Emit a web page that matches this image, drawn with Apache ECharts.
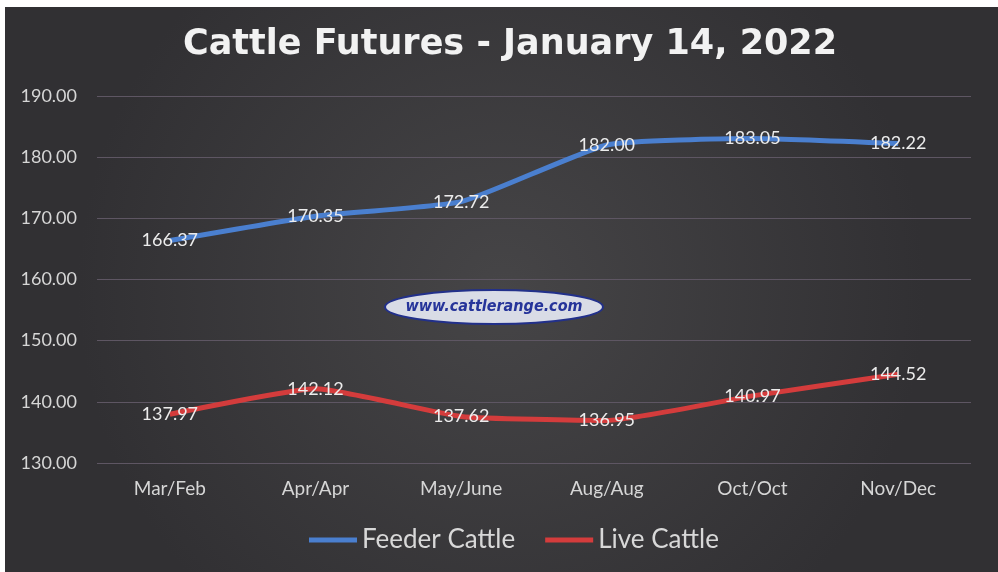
<!DOCTYPE html>
<html>
<head>
<meta charset="utf-8">
<script src="https://cdn.jsdelivr.net/npm/echarts@6/dist/echarts.min.js"></script>
<style>
html,body{margin:0;padding:0;background:#fff;}
#c{width:998px;height:572px;}
</style>
</head>
<body>
<div id="c"></div>
<script>
const categories = ['Mar/Feb','Apr/Apr','May/June','Aug/Aug','Oct/Oct','Nov/Dec'];
const feederCattle = [166.37,170.35,172.72,182.00,183.05,182.22];
const liveCattle = [137.97,142.12,137.62,136.95,140.97,144.52];
const yTicks = {min:130,max:190,interval:10};

const chart = echarts.init(document.getElementById('c'));
const labelStyle = {show:true,position:'top',distance:0,offset:[0,9],color:'#ececec',fontSize:18,fontFamily:'Lato',formatter:p=>p.value.toFixed(2)};
chart.setOption({
  backgroundColor:'#ffffff',
  graphic:[
    {type:'rect',z:-10,shape:{x:5,y:7,width:993,height:565},style:{fill:{type:'radial',x:0.5,y:0.5,r:0.75,colorStops:[{offset:0,color:'#464547'},{offset:1,color:'#313033'}]}}},
    {type:'text',x:510,y:45,style:{text:'Cattle Futures - January 14, 2022',fill:'#f2f2f2',font:'bold 35px "DejaVu Sans", sans-serif',align:'center',verticalAlign:'middle'}},
    {type:'ellipse',z:5,shape:{cx:494,cy:307,rx:109,ry:17},style:{fill:'#d9dce6',stroke:'#22308a',lineWidth:2}},
    {type:'text',z:6,x:494,y:307,style:{text:'www.cattlerange.com',fill:'#26349a',font:'italic bold 16px "DejaVu Sans Condensed", "Liberation Sans", sans-serif',align:'center',verticalAlign:'middle'}}
  ],
  grid:{left:97,right:27,top:96,bottom:109},
  legend:{bottom:14,left:304,itemWidth:48,itemHeight:5,itemGap:30,icon:'rect',textStyle:{color:'#d8d8d8',fontSize:26,fontFamily:'Lato'},data:[{name:'Feeder Cattle',itemStyle:{color:'#4a7fcf',opacity:1}},{name:'Live Cattle',itemStyle:{color:'#d43c3c',opacity:1}}]},
  xAxis:{type:'category',data:categories,boundaryGap:true,axisLine:{show:false},axisTick:{show:false},axisLabel:{color:'#d6d6d6',fontSize:19,fontFamily:'Lato',margin:16}},
  yAxis:{type:'value',min:yTicks.min,max:yTicks.max,interval:yTicks.interval,axisLine:{show:false},axisTick:{show:false},splitLine:{lineStyle:{color:'#5e5663',width:1}},axisLabel:{color:'#d6d6d6',fontSize:18,fontFamily:'Lato',margin:20,formatter:v=>v.toFixed(2)}},
  series:[
    {name:'Feeder Cattle',type:'line',data:feederCattle,smooth:0.15,symbol:'circle',symbolSize:0,showSymbol:true,lineStyle:{color:'#4a7fcf',width:5},itemStyle:{color:'#4a7fcf'},label:labelStyle},
    {name:'Live Cattle',type:'line',data:liveCattle,smooth:0.15,symbol:'circle',symbolSize:0,showSymbol:true,lineStyle:{color:'#d43c3c',width:5},itemStyle:{color:'#d43c3c'},label:labelStyle}
  ]
});
</script>
</body>
</html>
